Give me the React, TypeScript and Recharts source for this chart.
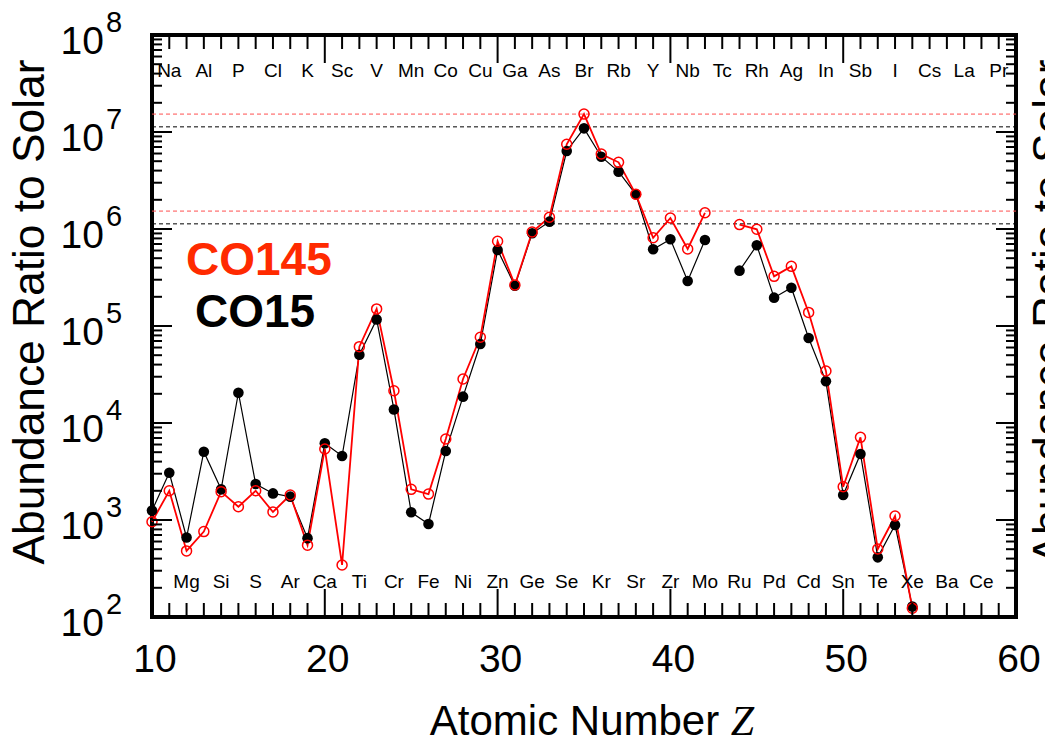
import React from 'react';
import { ComposedChart, Line, XAxis, YAxis, ReferenceLine, ReferenceArea } from 'recharts';

// Atomic number for each row of data
const atomicNumbers = [
  10, 11, 12, 13, 14, 15, 16, 17, 18, 19, 20, 21, 22, 23, 24, 25, 26, 27, 28, 29, 30, 31,
  32, 33, 34, 35, 36, 37, 38, 39, 40, 41, 42, 43, 44, 45, 46, 47, 48, 49, 50, 51, 52, 53, 54,
];

// Abundance ratio to solar, model CO15 (black filled dots)
const co15 = [
  1250, 3070, 660, 5060, 2070, 20500, 2350, 1880, 1740, 650, 6180, 4570, 50600, 117000, 13800,
  1200, 910, 5140, 18700, 65200, 608000, 260000, 903000, 1190000, 6370000, 10900000, 5560000,
  3900000, 2280000, 618000, 783000, 291000, 771000, null, 372000, 679000, 196000, 248000, 75200,
  26900, 1810, 4790, 412, 887, 128,
];

// Abundance ratio to solar, model CO145 (red open circles)
const co145 = [
  960, 2000, 480, 760, 1960, 1370, 2000, 1210, 1810, 550, 5400, 344, 61200, 150000, 21500, 2070,
  1850, 6840, 28400, 76500, 747000, 265000, 931000, 1320000, 7470000, 15300000, 5930000, 4870000,
  2280000, 813000, 1300000, 622000, 1470000, null, 1110000, 993000, 325000, 412000, 138000, 34400,
  2200, 7120, 502, 1100, 123,
];

// dashed guide levels (peak and peak / 10)
const co145Levels = [15300000, 1530000];
const co15Levels = [11300000, 1130000];

// element symbols from Z = 11 upward
const elementSymbols = [
  'Na', 'Mg', 'Al', 'Si', 'P', 'S', 'Cl', 'Ar', 'K', 'Ca', 'Sc', 'Ti', 'V', 'Cr', 'Mn', 'Fe', 'Co',
  'Ni', 'Cu', 'Zn', 'Ga', 'Ge', 'As', 'Se', 'Br', 'Kr', 'Rb', 'Sr', 'Y', 'Zr', 'Nb', 'Mo', 'Tc',
  'Ru', 'Rh', 'Pd', 'Ag', 'Cd', 'In', 'Sn', 'Sb', 'Te', 'I', 'Xe', 'Cs', 'Ba', 'La', 'Ce', 'Pr',
];
const firstSymbolZ = 11;

const xMajorTicks = [10, 20, 30, 40, 50, 60];
const yExponents = [2, 3, 4, 5, 6, 7, 8];

const xTicks = Array.from({ length: 51 }, (_, i) => 10 + i);
const yTicks: number[] = [];
yExponents.forEach((e) => {
  yTicks.push(Math.pow(10, e));
  if (e < 8) for (let m = 2; m <= 9; m++) yTicks.push(m * Math.pow(10, e));
});

const data = atomicNumbers.map((z, i) => ({ z, co15: co15[i], co145: co145[i] }));

const W = 1045;
const H = 744;
const LEFT = 152;
const RIGHT = 1016;
const TOP = 35;
const BOTTOM = 617;
const FONT = '"Liberation Sans", Arial, Helvetica, sans-serif';

const XTick = (props: any) => {
  const { x, payload } = props;
  const v = payload.value as number;
  const major = xMajorTicks.includes(v);
  const len = major ? 28 : 14;
  const sym = elementSymbols[v - firstSymbolZ];
  return (
    <g>
      <line x1={x} x2={x} y1={BOTTOM} y2={BOTTOM - len} stroke="#000" strokeWidth={2} />
      <line x1={x} x2={x} y1={TOP} y2={TOP + len} stroke="#000" strokeWidth={2} />
      {major && (
        <text x={x + 3} y={672} textAnchor="middle" fontSize={39} fontFamily={FONT} fill="#000">
          {v}
        </text>
      )}
      {sym && (
        <text
          x={x}
          y={v % 2 === 1 ? 77 : 588}
          textAnchor="middle"
          fontSize={19}
          fontFamily={FONT}
          fill="#000"
        >
          {sym}
        </text>
      )}
    </g>
  );
};

const YTick = (props: any) => {
  const { y, payload } = props;
  const v = payload.value as number;
  const exp = Math.round(Math.log10(v));
  const major = Math.abs(Math.log10(v) - exp) < 1e-6;
  const len = major ? 20 : 10;
  return (
    <g>
      <line x1={LEFT} x2={LEFT + len} y1={y} y2={y} stroke="#000" strokeWidth={2} />
      <line x1={RIGHT} x2={RIGHT - len} y1={y} y2={y} stroke="#000" strokeWidth={2} />
      {major && (
        <g fontFamily={FONT} fill="#000">
          <text x={104} y={y + 19} textAnchor="end" fontSize={39}>
            10
          </text>
          <text x={106} y={y - 3} textAnchor="start" fontSize={29}>
            {exp}
          </text>
        </g>
      )}
    </g>
  );
};

const OpenDot = (props: any) => {
  const { cx, cy, value } = props;
  if (value == null || cx == null || cy == null) return <g />;
  return <circle cx={cx} cy={cy} r={5} fill="none" stroke="#ff0000" strokeWidth={1.5} />;
};

const FilledDot = (props: any) => {
  const { cx, cy, value } = props;
  if (value == null || cx == null || cy == null) return <g />;
  return <circle cx={cx} cy={cy} r={5.3} fill="#000" />;
};

export default function App() {
  return (
    <div style={{ position: 'absolute', left: 0, top: 0, width: W, height: H, background: '#fff' }}>
      <ComposedChart
        width={W}
        height={H}
        data={data}
        margin={{ top: TOP, right: W - RIGHT, bottom: 0, left: 0 }}
      >
        <XAxis
          dataKey="z"
          type="number"
          domain={[10, 60]}
          ticks={xTicks}
          interval={0}
          height={H - BOTTOM}
          axisLine={false}
          tickLine={false}
          tick={<XTick />}
        />
        <YAxis
          type="number"
          scale="log"
          domain={[100, 100000000]}
          allowDataOverflow
          ticks={yTicks}
          interval={0}
          width={LEFT}
          axisLine={false}
          tickLine={false}
          tick={<YTick />}
        />
        {co145Levels.map((lv) => (
          <ReferenceLine key={'r' + lv} y={lv} stroke="#ff5050" strokeDasharray="4 3" strokeWidth={1} />
        ))}
        {co15Levels.map((lv) => (
          <ReferenceLine key={'b' + lv} y={lv} stroke="#000" strokeDasharray="4 3" strokeWidth={1} />
        ))}
        <Line
          dataKey="co15"
          stroke="#000"
          strokeWidth={1.2}
          dot={<FilledDot />}
          activeDot={false}
          connectNulls={false}
          isAnimationActive={false}
        />
        <Line
          dataKey="co145"
          stroke="#ff0000"
          strokeWidth={1.8}
          dot={<OpenDot />}
          activeDot={false}
          connectNulls={false}
          isAnimationActive={false}
        />
        <ReferenceArea
          x1={10}
          x2={60}
          y1={100}
          y2={100000000}
          fill="none"
          fillOpacity={0}
          stroke="#000"
          strokeWidth={4}
        />
      </ComposedChart>
      <svg
        width={W}
        height={H}
        style={{ position: 'absolute', left: 0, top: 0, pointerEvents: 'none' }}
      >
        <text
          x={44}
          y={312}
          transform="rotate(-90 44 312)"
          textAnchor="middle"
          fontSize={44}
          fontFamily={FONT}
          textLength={505}
          lengthAdjust="spacingAndGlyphs"
        >
          Abundance Ratio to Solar
        </text>
        <text
          x={1064}
          y={312}
          transform="rotate(-90 1064 312)"
          textAnchor="middle"
          fontSize={44}
          fontFamily={FONT}
          textLength={505}
          lengthAdjust="spacingAndGlyphs"
        >
          Abundance Ratio to Solar
        </text>
        <text x={592} y={735} textAnchor="middle" fontSize={42} fontFamily={FONT}>
          Atomic Number{' '}
          <tspan fontFamily='"Liberation Serif", "Times New Roman", serif' fontStyle="italic">
            Z
          </tspan>
        </text>
        <text x={186} y={275} fontSize={46} fontWeight="bold" fontFamily={FONT} fill="#ff2a00">
          CO145
        </text>
        <text x={195} y={327} fontSize={46} fontWeight="bold" fontFamily={FONT} fill="#000">
          CO15
        </text>
      </svg>
    </div>
  );
}
